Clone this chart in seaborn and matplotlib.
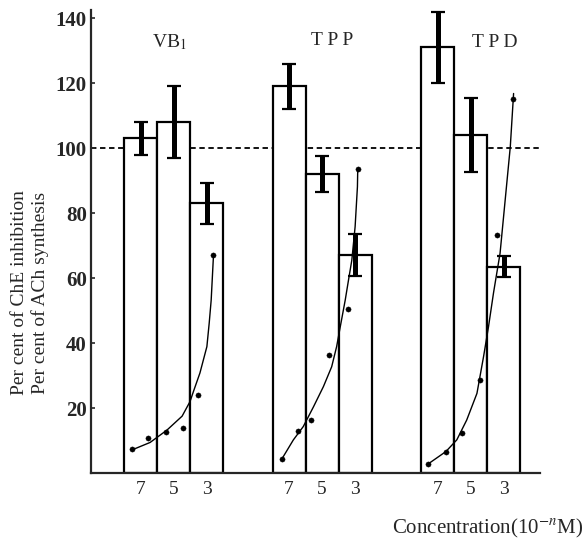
import matplotlib
matplotlib.use("Agg")
import matplotlib.pyplot as plt
import seaborn as sns
import numpy as np

# ---------------- data ----------------
groups = ["VB$_1$", "T P P", "T P D"]
conc_labels = ["7", "5", "3"]

vb1_vals = [103, 108, 83]
vb1_err = [5, 11, 6.3]
tpp_vals = [119, 92, 67]
tpp_err = [7, 5.5, 6.5]
tpd_vals = [131, 104, 63.5]
tpd_err = [11, 11.5, 3.3]

# dose-response dots (x in bar-slot units, y in per cent)
vb1_dot_x = [1.24, 1.73, 2.27, 2.79, 3.24, 3.70]
vb1_dot_y = [7.4, 10.8, 12.6, 13.8, 24, 67]
tpp_dot_x = [5.78, 6.27, 6.67, 7.21, 7.79, 8.08]
tpp_dot_y = [4.3, 12.9, 16.3, 36.3, 50.5, 93.7]
tpd_dot_x = [10.20, 10.75, 11.23, 11.77, 12.31, 12.77]
tpd_dot_y = [2.7, 6.6, 12.2, 28.6, 73.2, 115]

# hand-drawn fitted curves
vb1_curve_x = [1.24, 1.79, 2.30, 2.76, 3.00, 3.10, 3.30, 3.51, 3.58, 3.64, 3.71]
vb1_curve_y = [7.1, 9.4, 13.2, 17.5, 22.0, 25.0, 30.8, 38.9, 46.1, 53.2, 67]
tpp_curve_x = [5.78, 6.13, 6.43, 6.74, 7.04, 7.29, 7.44, 7.55, 7.70, 7.80, 7.90, 8.00, 8.07, 8.08]
tpp_curve_y = [4.3, 10.2, 14.3, 20.4, 26.6, 32.7, 38.9, 45, 53.2, 59.4, 65.5, 75.8, 88.1, 93.7]
tpd_curve_x = [10.20, 10.75, 11.08, 11.38, 11.69, 11.89, 12.04, 12.19, 12.24, 12.39, 12.70, 12.80]
tpd_curve_y = [2.7, 6.6, 10.2, 16.3, 24.5, 35.8, 45, 55.3, 58.4, 67.6, 100.4, 116.8]

# ---------------- layout ----------------
group_starts = [1.5, 6.0, 10.5]
values = [vb1_vals, tpp_vals, tpd_vals]
errors = [vb1_err, tpp_err, tpd_err]

xpos, yv, ye, xl = [], [], [], []
for g, s in enumerate(group_starts):
    for i in range(3):
        xpos.append(s + i)
        yv.append(values[g][i])
        ye.append(errors[g][i])
        xl.append(conc_labels[i])

sns.set_style("ticks")
plt.rcParams["font.family"] = ["Liberation Serif", "DejaVu Serif"]
plt.rcParams["mathtext.fontset"] = "stix"

fig = plt.figure(figsize=(5.87, 5.41), dpi=100)
ax = fig.add_axes([91 / 587, (541 - 473) / 541, (540 - 91) / 587, (473 - 10) / 541])

# reference line at 100 (behind bars)
ax.axhline(100, color="black", lw=1.3, ls=(0, (3, 2)), zorder=0)

sns.barplot(x=xpos, y=yv, native_scale=True, width=1.0, color="white",
            edgecolor="black", linewidth=1.6, errorbar=None, ax=ax, zorder=2)

ax.errorbar(xpos, yv, yerr=ye, fmt="none", ecolor="black", elinewidth=3.6,
            capsize=5, capthick=1.6, zorder=4)

for cx, cy, dx, dy in [(vb1_curve_x, vb1_curve_y, vb1_dot_x, vb1_dot_y),
                       (tpp_curve_x, tpp_curve_y, tpp_dot_x, tpp_dot_y),
                       (tpd_curve_x, tpd_curve_y, tpd_dot_x, tpd_dot_y)]:
    sns.lineplot(x=cx, y=cy, sort=False, estimator=None, color="black", lw=1.0, ax=ax, zorder=5)
    sns.scatterplot(x=dx, y=dy, color="black", s=14, edgecolor="black", ax=ax, zorder=6)

ax.set_xlim(0, 13.6)
ax.set_ylim(0, 142.5)
ax.set_yticks([20, 40, 60, 80, 100, 120, 140])
ax.set_xticks(xpos)
ax.set_xticklabels(xl)
ax.tick_params(axis="x", length=0, pad=6, labelsize=14)
ax.tick_params(axis="y", direction="in", length=3, width=1.2, pad=3, labelsize=15)
for lab in ax.get_yticklabels():
    lab.set_fontweight("bold")
for sp in ["top", "right"]:
    ax.spines[sp].set_visible(False)
ax.spines["left"].set_linewidth(1.6)
ax.spines["bottom"].set_linewidth(1.6)
ax.set_xlabel("")
ax.set_ylabel("")

label_x = [2.36, 7.3, 12.24]
label_y = [132.5, 133, 132.5]
for t, x, y in zip(groups, label_x, label_y):
    ax.text(x, y, t, ha="center", va="center", fontsize=14)

fig.text(30 / 587, (541 - 293) / 541,
         "Per cent of ChE inhibition\nPer cent of ACh synthesis",
         rotation=90, ha="center", va="center", multialignment="center", fontsize=14)
fig.text(488 / 587, (541 - 528) / 541, r"Concentration(10$^{-n}$M)",
         ha="center", va="center", fontsize=15)

fig.savefig("out.png", dpi=100)
